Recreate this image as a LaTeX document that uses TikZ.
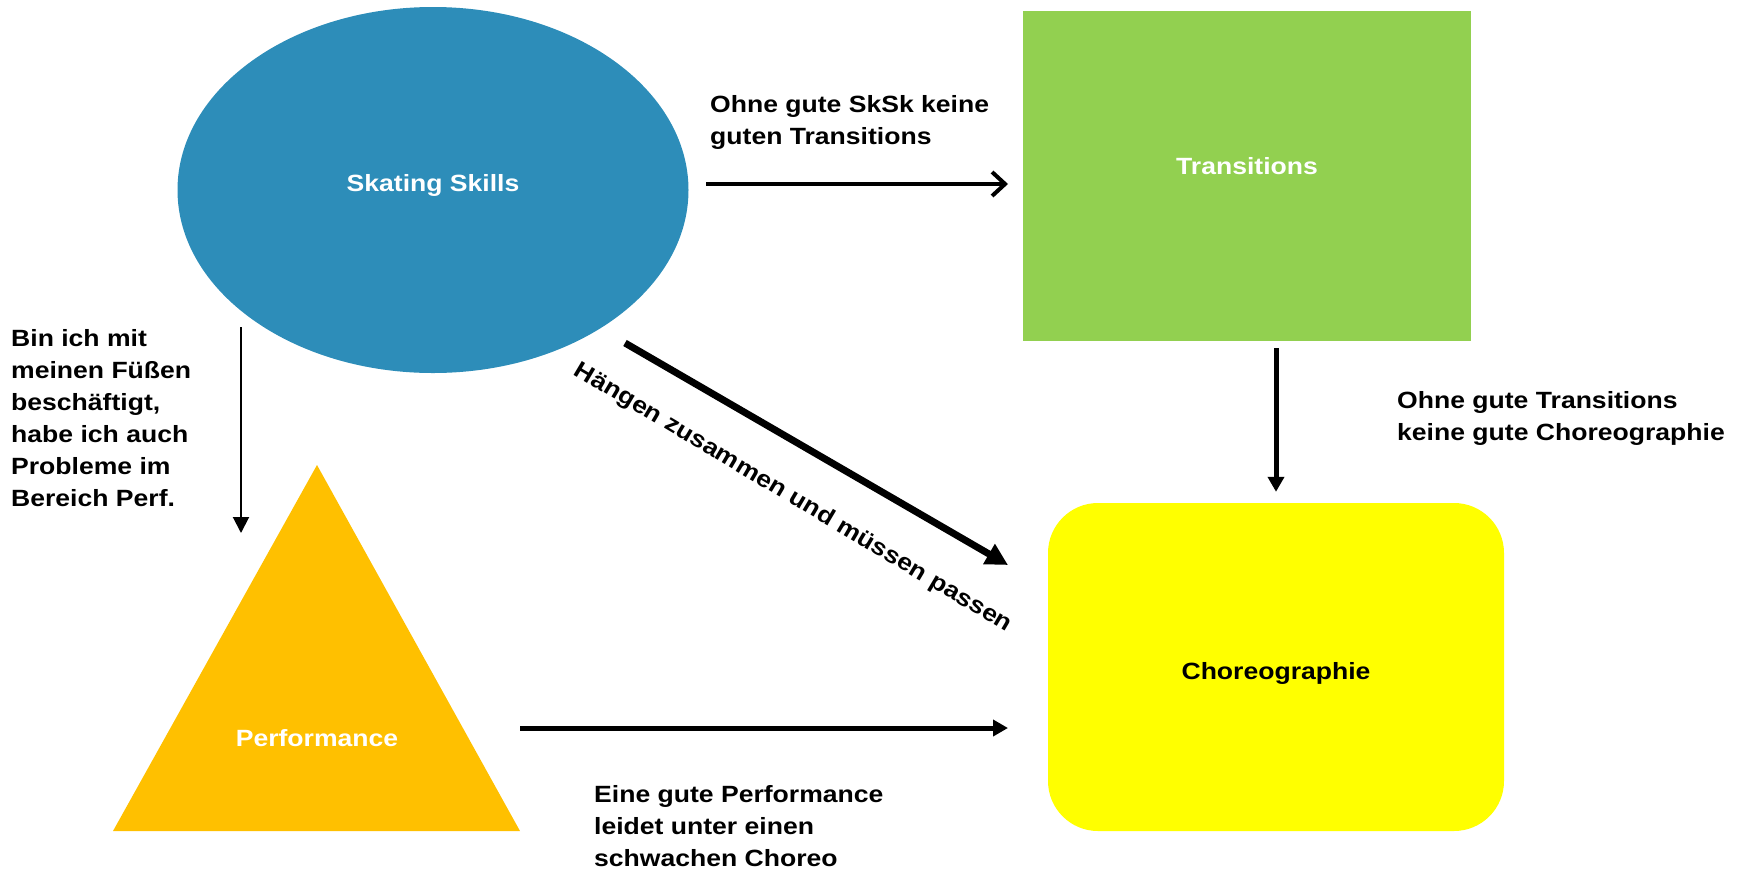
\documentclass[tikz,border=0pt]{standalone}
\usepackage{fontspec}
\setmainfont{Liberation Sans}[FakeStretch=1.13]
\usetikzlibrary{arrows.meta,shapes.geometric}

\definecolor{skblue}{RGB}{45,141,185}
\definecolor{trgreen}{RGB}{146,208,80}
\definecolor{chyellow}{RGB}{255,255,0}
\definecolor{pforange}{RGB}{255,192,0}

\begin{document}
\begin{tikzpicture}[x=1pt,y=-1pt,
        every node/.style={font=\bfseries\fontsize{23.5}{32}\selectfont,inner sep=0pt},
        notetext/.style={anchor=north west,align=left}]
        \useasboundingbox (0,0) rectangle (1740,871);

        % the four areas
        \node[ellipse,fill=skblue,minimum width=511pt,minimum height=366pt,text=white,text depth=14pt] (sksk) at (433,190) {Skating Skills};
        \node[rectangle,fill=trgreen,minimum width=448pt,minimum height=330pt,text=white,text depth=20pt] (trans) at (1247,176) {Transitions};
        \node[rectangle,rounded corners=50pt,fill=chyellow,minimum width=456pt,minimum height=328pt,text height=30pt] (choreo) at (1276,667) {Choreographie};
        \fill[pforange] (317,465) -- (520,831) -- (113,831) -- cycle;
        \node[text=white] (perf) at (317,738) {Performance};

        % define named coordinates for the free arrow ends
        \coordinate (s1) at (706,184);
        \coordinate (t1) at (1008,184);
        \coordinate (s2) at (625,343);
        \coordinate (c2) at (1008,565);
        \coordinate (s3) at (241,327);
        \coordinate (p3) at (241,533);
        \coordinate (p4) at (520,728);
        \coordinate (c4) at (1008,728);

        % draw arrows
        \draw[line width=4pt,-{Straight Barb[length=13pt,width=24pt]}] (s1) -- (t1);
        \draw[line width=7pt,-{Triangle[length=22pt,width=22pt]}] (s2) -- (c2);
        \draw[line width=5pt,-{Triangle[length=15pt,width=16pt]},shorten <=7pt,shorten >=11pt] (trans.south -| choreo.north) -- (choreo.north);
        \draw[line width=2pt,-{Triangle[length=16pt,width=16pt]}] (s3) -- (p3);
        \draw[line width=5pt,-{Triangle[length=15pt,width=16pt]}] (p4) -- (c4);

        % draw labels for the arrows
        \node[notetext] (n1) at (710,95) {Ohne gute SkSk keine\\guten Transitions};
        \node[notetext] (n2) at (11,329) {Bin ich mit\\meinen Füßen\\beschäftigt,\\habe ich auch\\Probleme im\\Bereich Perf.};
        \node[notetext] (n3) at (1397,391) {Ohne gute Transitions\\keine gute Choreographie};
        \node[notetext] (n4) at (594,785) {Eine gute Performance\\leidet unter einen\\schwachen Choreo};
        \node[rotate=-30.7] (n5) at (793,498) {Hängen zusammen und müssen passen};

    \end{tikzpicture}
\end{document}
